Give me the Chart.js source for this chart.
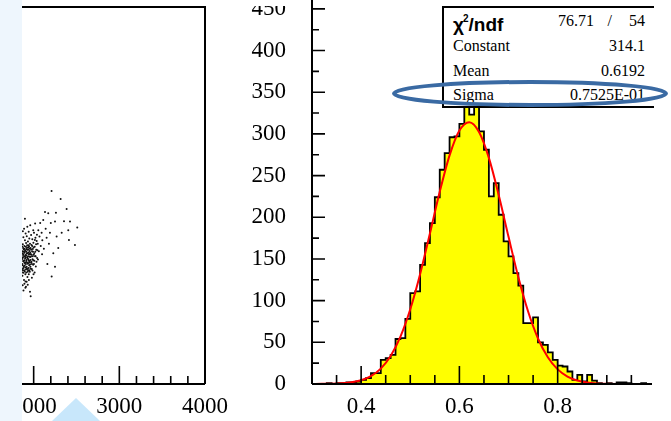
<!DOCTYPE html>
<html>
<head>
<meta charset="utf-8">
<script src="https://cdn.jsdelivr.net/npm/chart.js@4.4.1/dist/chart.umd.min.js"></script>
<style>
  html, body { margin: 0; padding: 0; background: #fff; }
  #page { position: relative; width: 671px; height: 421px; overflow: hidden; background: #fff; }
  canvas { position: absolute; }
  #scatterChart { left: -52px; top: 0; }
  #histChart { left: 230px; top: -12px; }
  #strip { position: absolute; left: 0; top: 0; width: 22px; height: 421px; background: #eef6fd; }
  #arrow { position: absolute; left: 52px; top: 398px; width: 48px; height: 23px; background: #c8e7fb;
           clip-path: polygon(50% 0, 100% 100%, 0 100%); }
  /* the top of the "450" label is cut off in the original */
  #topcut { position: absolute; left: 240px; top: 0; width: 64px; height: 6px; background: #fff; }
  #stats { position: absolute; left: 442px; top: 6px; width: 210px; height: 98px; background: #fff;
           border-left: 2px solid #000; border-top: 2px solid #000; border-bottom: 2px solid #000;
           font-family: "Liberation Serif", serif; font-size: 16px; color: #000; }
  .row { position: absolute; left: 9px; right: 9px; height: 20px; line-height: 20px; white-space: nowrap; }
  .row span { position: absolute; top: 0; }
  .chi { font-family: "Liberation Sans", Arial, sans-serif; font-weight: bold; font-size: 19px; }
  #ring { position: absolute; left: 0; top: 0; }
</style>
</head>
<body>
<div id="page">
  <canvas id="scatterChart" width="287" height="421"></canvas>
  <canvas id="histChart" width="441" height="433"></canvas>
  <div id="strip"></div>
  <div id="arrow"></div>
  <div id="topcut"></div>
  <div id="stats"></div>
  <svg id="ring" width="671" height="421">
    <ellipse cx="530" cy="93.5" rx="136" ry="11.5" fill="none" stroke="#3a6aa3" stroke-width="4"></ellipse>
  </svg>
</div>
<script>
// histogram: 70 bins of 0.01 starting at 0.30
const binStart = 0.3;
const binWidth = 0.01;
const counts = [
  0, 0, 0, 1, 0, 1, 1, 2, 2, 3,
  5, 7, 13, 13, 29, 31, 35, 54, 55, 78,
  109, 111, 143, 169, 193, 224, 257, 277, 296, 297,
  312, 332, 323, 332, 303, 281, 225, 241, 203, 171,
  153, 133, 118, 73, 73, 80, 50, 47, 38, 29,
  22, 21, 15, 5, 11, 3, 11, 4, 1, 0,
  1, 0, 2, 2, 1, 0, 0, 1, 0, 0,
];

// red gaussian fit curve
const fitX = [0.30, 0.32, 0.34, 0.36, 0.38, 0.40, 0.42, 0.44, 0.46, 0.48, 0.50, 0.52,
  0.54, 0.56, 0.58, 0.60, 0.62, 0.64, 0.66, 0.68, 0.70, 0.72, 0.74, 0.76, 0.78, 0.80,
  0.82, 0.84, 0.86, 0.88, 0.90, 0.92, 0.94, 0.96, 0.98, 1.00];
const fitY = [0.1, 0.2, 0.4, 0.9, 2.0, 4.5, 9.5, 18.4, 33.5, 56.8, 89.6, 131.7,
  180.5, 230.5, 274.2, 304.0, 314.1, 302.3, 271.2, 226.6, 176.5, 128.0, 86.6, 54.6, 32.0, 17.5,
  8.9, 4.2, 1.8, 0.7, 0.3, 0.1, 0, 0, 0, 0];

// stats box
const chi2 = "76.71";
const ndf = "54";
const statNames = ["Constant", "Mean", "Sigma"];
const statValues = ["314.1", "0.6192", "0.7525E-01"];

// left panel scatter (only its right part is visible)
const scatterPoints = [
  [1866,0.318],[1868,0.352],[1869,0.287],[1871,0.334],[1873,0.371],[1875,0.301],[1876,0.342],
  [1878,0.326],[1880,0.389],[1882,0.295],[1884,0.357],[1885,0.312],[1887,0.276],[1889,0.338],
  [1891,0.366],[1893,0.321],[1894,0.348],[1896,0.299],[1898,0.381],[1900,0.333],[1902,0.309],
  [1904,0.355],[1905,0.272],[1907,0.342],[1909,0.318],[1911,0.374],[1913,0.296],[1915,0.351],
  [1917,0.329],[1919,0.392],[1921,0.307],[1923,0.362],[1925,0.336],[1927,0.284],[1929,0.347],
  [1931,0.319],[1933,0.378],[1935,0.302],[1937,0.357],[1939,0.331],[1941,0.368],[1943,0.291],
  [1945,0.344],[1947,0.315],[1949,0.386],[1951,0.326],[1953,0.353],[1955,0.298],[1957,0.372],
  [1959,0.337],[1962,0.311],[1964,0.361],[1967,0.344],[1970,0.395],[1972,0.322],[1975,0.369],
  [1978,0.305],[1981,0.352],[1984,0.384],[1987,0.331],[1990,0.358],[1994,0.316],[1997,0.375],
  [2001,0.343],[2004,0.401],[2008,0.327],[2012,0.364],[2016,0.339],[2021,0.388],[2025,0.312],
  [2030,0.356],[2035,0.379],[2040,0.334],
  [1863,0.331],[1864,0.296],[1865,0.365],[1867,0.305],[1870,0.347],[1872,0.315],[1874,0.336],
  [1877,0.361],[1879,0.308],[1881,0.344],[1883,0.325],[1886,0.351],[1888,0.302],[1890,0.328],
  [1892,0.359],[1895,0.314],[1897,0.339],[1899,0.353],[1901,0.322],[1903,0.291],[1906,0.336],
  [1908,0.364],[1910,0.304],[1912,0.341],[1914,0.326],[1916,0.358],[1918,0.311],[1920,0.346],
  [1922,0.322],[1924,0.368],[1926,0.305],[1928,0.333],[1930,0.356],[1932,0.298],[1934,0.339],
  [1936,0.321],[1938,0.362],[1940,0.349],[1942,0.308],[1944,0.327],[1946,0.365],[1948,0.338],
  [1950,0.302],[1952,0.345],[1954,0.322],[1956,0.359],[1958,0.317],[1961,0.348],[1963,0.329],
  [1966,0.306],[1969,0.338],[1971,0.357],[1974,0.324],[1977,0.343],[1980,0.318],[1983,0.366],
  [1986,0.301],[1989,0.339],[1992,0.351],[1996,0.328],[1999,0.362],[2003,0.318],[2007,0.347],
  [2011,0.296],[2014,0.382],[2019,0.351],[2023,0.339],[2028,0.371],[2033,0.324],[2038,0.396],
  [2044,0.355],
  [1872,0.262],[1881,0.248],[1892,0.266],[1903,0.255],[1910,0.258],[1918,0.271],[1931,0.263],
  [1944,0.276],[1957,0.245],[1965,0.233],[1979,0.282],[1998,0.291],
  [1874,0.405],[1888,0.412],[1898,0.438],[1906,0.399],[1926,0.417],[1942,0.404],[1960,0.421],
  [1995,0.408],[2017,0.426],
  [2048,0.372],[2054,0.408],[2061,0.352],[2068,0.391],[2076,0.427],[2083,0.366],[2093,0.401],
  [2101,0.381],[2112,0.435],[2119,0.359],[2132,0.456],[2140,0.412],[2151,0.388],[2170,0.453],
  [2178,0.372],[2190,0.401],[2200,0.427],[2210,0.285],[2209,0.512],[2229,0.347],[2249,0.431],
  [2249,0.311],[2260,0.454],[2268,0.391],[2287,0.361],
  [2315,0.491],[2327,0.401],[2354,0.432],[2385,0.464],[2404,0.408],[2412,0.382],[2424,0.431],
  [2482,0.369],[2509,0.415],[2050,0.330],[2098,0.344],[2160,0.318],
];

Chart.defaults.font.family = "'Liberation Serif', 'Times New Roman', serif";
Chart.defaults.color = "#000";

function isMultiple(v, step) {
  const r = v / step;
  return Math.abs(r - Math.round(r)) < 1e-6;
}

// ROOT-like axes: thick axis lines and ticks pointing into the plot
const rootAxes = {
  id: "rootAxes",
  afterDatasetsDraw(chart, args, opts) {
    const { ctx, chartArea: a } = chart;
    const xs = chart.scales.x;
    const ys = chart.scales.y;
    ctx.save();
    ctx.strokeStyle = "#000";
    ctx.lineWidth = 2;
    ctx.beginPath();
    ctx.moveTo(a.left, a.bottom);
    ctx.lineTo(a.right, a.bottom);
    if (opts.leftAxis) {
      ctx.moveTo(a.left, a.bottom);
      ctx.lineTo(a.left, a.top);
    }
    if (opts.frame) {
      ctx.moveTo(a.left, a.top);
      ctx.lineTo(a.right, a.top);
      ctx.lineTo(a.right, a.bottom);
    }
    ctx.stroke();

    ctx.lineWidth = 1.6;
    ctx.beginPath();
    xs.ticks.forEach((t) => {
      const px = xs.getPixelForValue(t.value);
      if (px <= a.left + 1 || px >= a.right - 1) return;
      const len = isMultiple(t.value, opts.xMajor) ? opts.xLong : opts.xShort;
      ctx.moveTo(px, a.bottom);
      ctx.lineTo(px, a.bottom - len);
    });
    if (opts.leftAxis) {
      ys.ticks.forEach((t) => {
        const py = ys.getPixelForValue(t.value);
        if (py >= a.bottom - 1) return;
        const len = isMultiple(t.value, opts.yMajor) ? opts.yLong : opts.yShort;
        ctx.moveTo(a.left, py);
        ctx.lineTo(a.left + len, py);
      });
    }
    ctx.stroke();
    ctx.restore();
  },
};

// stats box text
function buildStats() {
  const box = document.getElementById("stats");
  const tops = [3, 28, 53, 77];
  let html = `<div class="row" style="top:${tops[0]}px">` +
    `<span class="chi" style="left:0">&chi;<sup style="font-size:10px;position:relative;top:-2px;vertical-align:super;margin-left:-1px">2</sup>/ndf</span>` +
    `<span style="right:51px">${chi2}</span>` +
    `<span style="right:33px">/</span>` +
    `<span style="right:0">${ndf}</span></div>`;
  statNames.forEach((name, i) => {
    html += `<div class="row" style="top:${tops[i + 1]}px">` +
      `<span style="left:0">${name}</span>` +
      `<span style="right:0">${statValues[i]}</span></div>`;
  });
  box.innerHTML = html;
}

function drawScatter() {
  const ctx = document.getElementById("scatterChart");
  new Chart(ctx, {
    type: "scatter",
    data: {
      datasets: [
        {
          data: scatterPoints.map(([x, y]) => ({ x, y })),
          pointRadius: 1,
          pointBorderWidth: 0,
          pointBackgroundColor: "#111",
        },
      ],
    },
    options: {
      responsive: false,
      animation: false,
      events: [],
      layout: { autoPadding: false, padding: { top: 7, right: 30, left: 0, bottom: 0 } },
      plugins: {
        legend: { display: false },
        tooltip: { enabled: false },
        rootAxes: { frame: true, leftAxis: false, xMajor: 1000, xLong: 18, xShort: 8 },
      },
      scales: {
        x: {
          type: "linear",
          min: 1000,
          max: 4000,
          grid: { display: false, drawTicks: false },
          border: { display: false },
          ticks: {
            stepSize: 200,
            autoSkip: false,
            maxRotation: 0,
            padding: 9,
            font: { size: 23 },
            callback: (v) => (isMultiple(v, 1000) ? String(v) : ""),
          },
          afterFit: (s) => {
            s.height = 37;
            s.paddingLeft = 0;
            s.paddingRight = 0;
          },
        },
        y: { display: false, min: 0, max: 1 },
      },
    },
    plugins: [rootAxes],
  });
}

function drawHistogram() {
  const ctx = document.getElementById("histChart");
  const histPoints = counts.map((c, i) => ({ x: binStart + i * binWidth, y: c }));
  histPoints.push({ x: binStart + counts.length * binWidth, y: 0 });

  new Chart(ctx, {
    type: "line",
    data: {
      datasets: [
        {
          // fit curve on top
          data: fitX.map((x, i) => ({ x, y: fitY[i] })),
          borderColor: "#ff0000",
          borderWidth: 2,
          pointRadius: 0,
          cubicInterpolationMode: "monotone",
          fill: false,
        },
        {
          data: histPoints,
          stepped: true,
          borderColor: "#000",
          borderWidth: 1.8,
          backgroundColor: "#ffff00",
          pointRadius: 0,
          fill: "origin",
        },
      ],
    },
    options: {
      responsive: false,
      animation: false,
      events: [],
      layout: { autoPadding: false, padding: { top: 0, right: 19, left: 0, bottom: 0 } },
      plugins: {
        legend: { display: false },
        tooltip: { enabled: false },
        rootAxes: {
          frame: false, leftAxis: true,
          xMajor: 0.2, xLong: 18, xShort: 9,
          yMajor: 50, yLong: 13, yShort: 7,
        },
      },
      scales: {
        x: {
          type: "linear",
          min: 0.3,
          max: 0.992,
          grid: { display: false, drawTicks: false },
          border: { display: false },
          ticks: {
            stepSize: 0.05,
            includeBounds: false,
            autoSkip: false,
            maxRotation: 0,
            padding: 9,
            font: { size: 23 },
            callback: (v) => (isMultiple(v, 0.2) ? v.toFixed(1) : ""),
          },
          afterFit: (s) => {
            s.height = 37;
            s.paddingLeft = 0;
            s.paddingRight = 0;
          },
        },
        y: {
          min: 0,
          max: 475,
          grid: { display: false, drawTicks: false },
          border: { display: false },
          ticks: {
            stepSize: 25,
            autoSkip: false,
            padding: 26,
            font: { size: 23 },
            callback: (v) => (isMultiple(v, 50) ? String(v) : ""),
          },
          afterFit: (s) => {
            s.width = 82;
            s.paddingTop = 0;
            s.paddingBottom = 0;
          },
        },
      },
    },
    plugins: [rootAxes],
  });
}

buildStats();
drawScatter();
drawHistogram();
</script>
</body>
</html>
